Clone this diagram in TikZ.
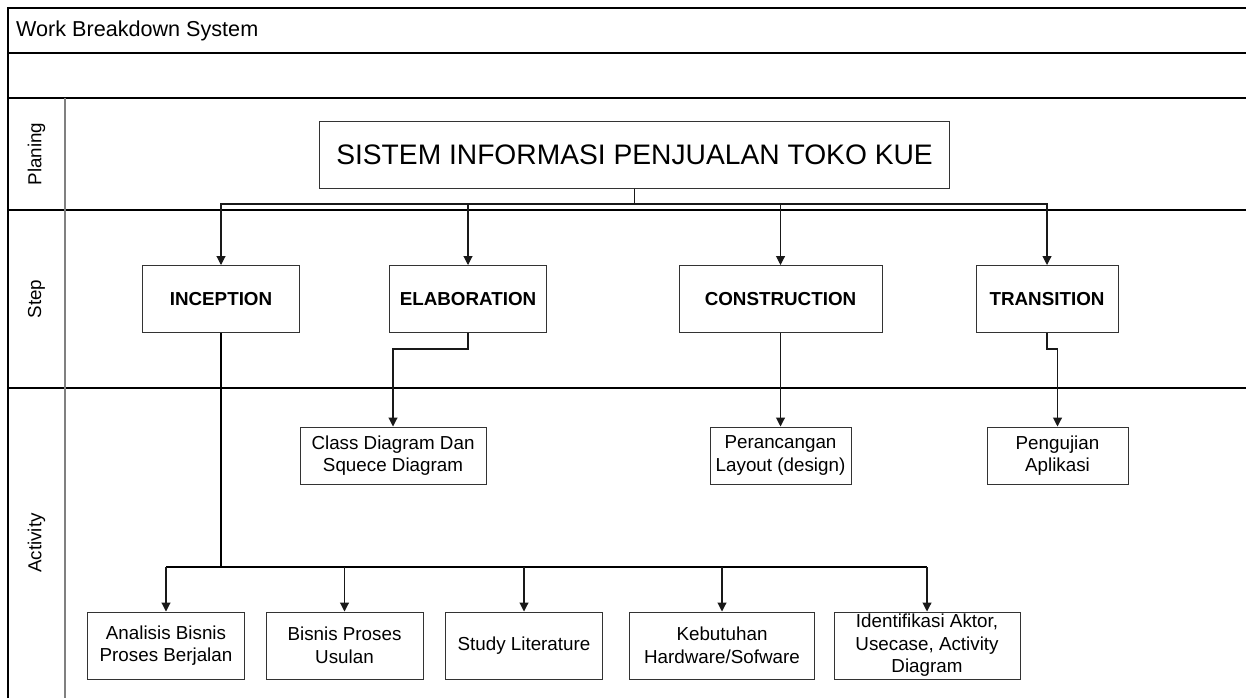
\documentclass[tikz,border=0pt]{standalone}
\usepackage{fontspec}
\setmainfont{Liberation Sans}
\usetikzlibrary{arrows.meta}

\begin{document}
\begin{tikzpicture}[x=1pt,y=-1pt,
  lane/.style={line width=1.4pt,black},
  sep/.style={line width=1.2pt,black!50},
  box/.style={draw=black!80,line width=1pt,fill=white,inner sep=0pt,align=center,
    font=\fontsize{18.8}{22.6}\selectfont},
  stepbox/.style={box,font=\fontsize{18.8}{22.6}\selectfont\bfseries},
  lanelabel/.style={rotate=90,font=\fontsize{18.8}{22.6}\selectfont},
  conn/.style={line width=1.1pt,black!90},
  arr/.style={conn,-{Triangle[length=9pt,width=9pt]}},
  trunk/.style={line width=2pt,black}
]
\useasboundingbox (0,0) rectangle (1246,698);

% swimlane frame
\draw[lane] (8,698) -- (8,8) -- (1246,8);
\draw[lane] (8,53) -- (1246,53);
\draw[lane] (8,98) -- (1246,98);
\draw[lane] (8,210) -- (1246,210);
\draw[lane] (8,388) -- (1246,388);
\draw[sep] (65,98) -- (65,698);

\node[anchor=west,inner sep=0pt,font=\fontsize{21.6}{25}\selectfont] (title) at (16,30.5) {Work Breakdown System};
\node[lanelabel] (lplan) at (36.5,154) {Planing};
\node[lanelabel] (lstep) at (36.5,299) {Step};
\node[lanelabel] (lact) at (36.5,543) {Activity};

% levels of the breakdown
\node[box,minimum width=630pt,minimum height=67pt,font=\fontsize{28.2}{32}\selectfont] (sys) at (634.5,154.5) {SISTEM INFORMASI PENJUALAN TOKO KUE};

\node[stepbox,minimum width=157pt,minimum height=67pt] (inc) at (221,299) {INCEPTION};
\node[stepbox,minimum width=157pt,minimum height=67pt] (ela) at (468,299) {ELABORATION};
\node[stepbox,minimum width=203pt,minimum height=67pt] (con) at (780.5,299) {CONSTRUCTION};
\node[stepbox,minimum width=142pt,minimum height=67pt] (tra) at (1047,299) {TRANSITION};

\node[box,minimum width=186pt,minimum height=57pt] (cls) at (393,455.5) {Class Diagram Dan\\Squece Diagram};
\node[box,minimum width=141pt,minimum height=57pt] (per) at (780.5,455.5) {Perancangan\\Layout (design)};
\node[box,minimum width=141pt,minimum height=57pt] (pen) at (1057.5,455.5) {Pengujian\\Aplikasi};

\node[box,minimum width=157pt,minimum height=67pt] (a1) at (166,645.5) {Analisis Bisnis\\Proses Berjalan};
\node[box,minimum width=157pt,minimum height=67pt] (a2) at (344.5,645.5) {Bisnis Proses\\Usulan};
\node[box,minimum width=157pt,minimum height=67pt] (a3) at (524,645.5) {Study Literature};
\node[box,minimum width=185pt,minimum height=67pt] (a4) at (722,645.5) {Kebutuhan\\Hardware/Sofware};
\node[box,minimum width=186pt,minimum height=67pt] (a5) at (927,645.5) {Identifikasi Aktor,\\Usecase, Activity\\Diagram};

% bus heights
\coordinate (busA) at (0,204);
\coordinate (busB) at (0,567);
\coordinate (jog) at (0,349);

% planning -> steps
\foreach \s in {inc,ela,con,tra}
  \draw[arr] (sys.south) -- (sys.south |- busA) -| (\s.north);

% steps -> activities
\draw[arr] (ela.south) -- (ela.south |- jog) -| (cls.north);
\draw[arr] (con.south) -- (per.north);
\draw[arr] (tra.south) -- (tra.south |- jog) -| (pen.north);

\draw[trunk] (inc.south) -- (inc.south |- busB);
\draw[trunk] (a1.north |- busB) -- (a5.north |- busB);
\foreach \a in {a1,a2,a3,a4,a5}
  \draw[arr] (\a.north |- busB) -- (\a.north);
\end{tikzpicture}
\end{document}
